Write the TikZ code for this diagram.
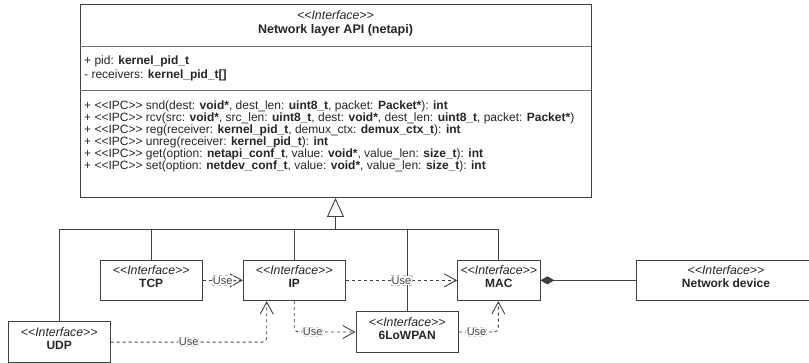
\documentclass[tikz,border=0pt]{standalone}
\usepackage{fontspec}
\setmainfont{Liberation Sans}[Ligatures=TeXOff]
\usetikzlibrary{arrows.meta}
\begin{document}
\begin{tikzpicture}[x=1pt,y=-1pt,
  box/.style={draw=black!75, line width=0.9pt, fill=white, inner sep=0pt, minimum height=40.7pt},
  ster/.style={font=\fontsize{12.3}{14}\selectfont\itshape, inner sep=0pt, text=black!85},
  bname/.style={font=\fontsize{12}{14}\selectfont\bfseries, inner sep=0pt, text=black!85},
  optext/.style={font=\fontsize{12}{14}\selectfont, anchor=west, inner sep=0pt, text=black!85},
  divider/.style={draw=black!55, line width=0.7pt},
  gen/.style={draw=black!75, line width=0.9pt},
  use/.style={draw=black!75, line width=0.9pt, dash pattern=on 3pt off 3pt,
     -{Straight Barb[length=12pt,width=13pt,line width=0.9pt]}},
  uselbl/.style={font=\fontsize{11}{13}\selectfont, fill=white, draw=black!25, line width=0.5pt, inner sep=0.8pt, text=black!75},
]
\useasboundingbox (0,0) rectangle (809,362);

% main interface
\node[box, minimum width=511pt, minimum height=193.5pt] (api) at (335.5,100.75) {};
\node[ster] (apis) at (335.5,15) {<<Interface>>};
\node[bname, font=\fontsize{12.5}{14}\selectfont\bfseries] (apin) at (335.5,30.5) {Network layer API (netapi)};
\draw[divider] (api.west |- 0,46.5) coordinate (d1a) -- (api.east |- 0,46.5) coordinate (d1b);
\draw[divider] (api.west |- 0,90.7) coordinate (d2a) -- (api.east |- 0,90.7) coordinate (d2b);
\node[optext] (at1) at (84,61) {+ pid: \textbf{kernel\_pid\_t}};
\node[optext] (at2) at (84,75) {- receivers: \textbf{kernel\_pid\_t[]}};
\node[optext] (op1) at (84,106) {+ <<IPC>> snd(dest: \textbf{void*}, dest\_len: \textbf{uint8\_t}, packet: \textbf{Packet*}): \textbf{int}};
\node[optext] (op2) at (84,118) {+ <<IPC>> rcv(src: \textbf{void*}, src\_len: \textbf{uint8\_t}, dest: \textbf{void*}, dest\_len: \textbf{uint8\_t}, packet: \textbf{Packet*})};
\node[optext] (op3) at (84,130) {+ <<IPC>> reg(receiver: \textbf{kernel\_pid\_t}, demux\_ctx: \textbf{demux\_ctx\_t}): \textbf{int}};
\node[optext] (op4) at (84,142) {+ <<IPC>> unreg(receiver: \textbf{kernel\_pid\_t}): \textbf{int}};
\node[optext] (op5) at (84,154) {+ <<IPC>> get(option: \textbf{netapi\_conf\_t}, value: \textbf{void*}, value\_len: \textbf{size\_t}): \textbf{int}};
\node[optext] (op6) at (84,166) {+ <<IPC>> set(option: \textbf{netdev\_conf\_t}, value: \textbf{void*}, value\_len: \textbf{size\_t}): \textbf{int}};

% interface boxes
\node[box, minimum width=101.7pt] (tcp) at (151.2,280.35) {};
\node[box, minimum width=101.7pt] (ip) at (294.2,280.35) {};
\node[box, minimum width=82.3pt] (mac) at (498.8,280.35) {};
\node[box, minimum width=180pt] (netdev) at (726,280.35) {};
\node[box, minimum width=101.7pt] (udp) at (59.2,342.05) {};
\node[box, minimum width=102.3pt] (low) at (407.2,332) {};

\foreach \n/\t in {tcp/TCP, ip/IP, mac/MAC, netdev/Network device, udp/UDP, low/6LoWPAN}{
  \node[ster] (\n s) at ([yshift=-10.7pt]\n.north) {<<Interface>>};
  \node[bname] (\n n) at ([yshift=-24pt]\n.north) {\t};
}

% generalization
\coordinate (bus) at (335.5,229.3);
\draw[gen, -{Triangle[open, length=19pt, width=17pt, line width=0.9pt]}] (bus) -- (api.south);
\draw[gen] (udp.north) |- (bus) -| (mac.north);
\draw[gen] (tcp.north) -- (tcp.north |- bus);
\draw[gen] (ip.north) -- (ip.north |- bus);
\draw[gen] (low.north) -- (low.north |- bus);

% composition
\draw[gen, {Diamond[length=14pt, width=8pt]}-] (mac.east) -- (netdev.west);

% use dependencies
\draw[use] (tcp.east) -- node[uselbl] (u1) {Use} (ip.west);
\draw[use] (ip.east) -- node[uselbl] (u2) {Use} (mac.west);
\coordinate (c1) at (266.7,342.05);
\draw[use, rounded corners=4pt] (udp.east) -- node[uselbl, pos=0.5] (u3) {Use} (c1) -- (c1 |- ip.south);
\coordinate (c2) at (294.2,332);
\draw[use, rounded corners=4pt] (ip.south) -- (c2) -- node[uselbl, pos=0.3] (u4) {Use} (low.west);
\coordinate (c3) at (498.3,332);
\draw[use, rounded corners=4pt] (low.east) -- node[uselbl, pos=0.45] (u5) {Use} (c3) -- (c3 |- mac.south);
\end{tikzpicture}
\end{document}
